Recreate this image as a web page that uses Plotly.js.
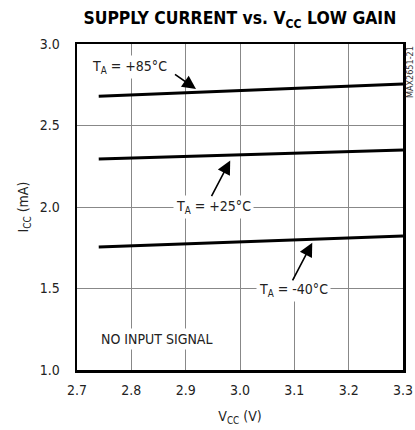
<!DOCTYPE html>
<html><head><meta charset="utf-8">
<script src="https://cdn.plot.ly/plotly-3.0.1.min.js"></script>
<style>body{margin:0;background:#fff}#c{width:415px;height:430px}</style>
</head><body><div id="c"></div>
<script>
const vcc = [2.74, 3.3];
const i85 = [2.68, 2.755];
const i25 = [2.295, 2.35];
const im40 = [1.755, 1.822];
const xTicks = [2.7, 2.8, 2.9, 3.0, 3.1, 3.2, 3.3];
const yTicks = [1.0, 1.5, 2.0, 2.5, 3.0];

const F = "DejaVu Sans Condensed";
const lineStyle = {color: '#000', width: 3};
const traces = [vcc, vcc, vcc].map((x, k) => ({
  x: x, y: [i85, i25, im40][k], mode: 'lines', line: lineStyle, hoverinfo: 'skip', showlegend: false
}));

const lab = (text, x, y) => ({text, x, y, xref: 'x', yref: 'y', showarrow: false,
  bgcolor: '#fff', borderpad: 2, font: {family: F, size: 14, color: '#222'}});
const arr = (x, y, ax, ay) => ({text: ' ', x, y, xref: 'x', yref: 'y', ax, ay, showarrow: true,
  arrowhead: 2, arrowsize: 1.7, arrowwidth: 1.6, arrowcolor: '#000', standoff: 0,
  font: {family: F, size: 2}});

const layout = {
  width: 415, height: 430,
  margin: {l: 77, r: 12, t: 44, b: 60},
  paper_bgcolor: '#fff', plot_bgcolor: '#fff',
  title: {text: '<b>SUPPLY CURRENT vs. V<sub>CC</sub> LOW GAIN</b>', x: 0.578, xanchor: 'center',
    y: 0.958, yanchor: 'middle', font: {family: F, size: 17.4, color: '#000'}},
  xaxis: {range: [2.7, 3.3], tickvals: xTicks, ticktext: xTicks.map(v => v.toFixed(1)),
    showgrid: true, gridcolor: '#888', gridwidth: 1, zeroline: false,
    showline: true, mirror: true, linecolor: '#000', linewidth: 2.5,
    ticks: 'outside', ticklen: 6, tickcolor: 'rgba(0,0,0,0)',
    tickfont: {family: F, size: 14, color: '#222'},
    title: {text: 'V<sub>CC</sub> (V)', font: {family: F, size: 14, color: '#222'}, standoff: 14}},
  yaxis: {range: [1.0, 3.0], tickvals: yTicks, ticktext: yTicks.map(v => v.toFixed(1)),
    showgrid: true, gridcolor: '#888', gridwidth: 1, zeroline: false,
    showline: true, mirror: true, linecolor: '#000', linewidth: 2.5,
    ticks: 'outside', ticklen: 12, tickcolor: 'rgba(0,0,0,0)',
    tickfont: {family: F, size: 14, color: '#222'},
    title: {text: 'I<sub>CC</sub> (mA)', font: {family: F, size: 14, color: '#222'}, standoff: 8}},
  annotations: [
    lab('T<sub>A</sub> = +85°C', 2.797, 2.86),
    lab('T<sub>A</sub> = +25°C', 2.952, 2.0),
    lab('T<sub>A</sub> = -40°C', 3.099, 1.49),
    lab('NO INPUT SIGNAL', 2.848, 1.19),
    arr(2.919, 2.724, -23, -16),
    arr(2.982, 2.285, -20, 38),
    arr(3.133, 1.78, -21, 40),
    {text: 'MAX2651-21', xref: 'paper', yref: 'paper', x: 1.0, y: 1.0, xanchor: 'left', yanchor: 'top',
     textangle: -90, showarrow: false, font: {family: F, size: 9, color: '#333'}}
  ]
};
Plotly.newPlot('c', traces, layout, {staticPlot: true, displayModeBar: false});
</script></body></html>
